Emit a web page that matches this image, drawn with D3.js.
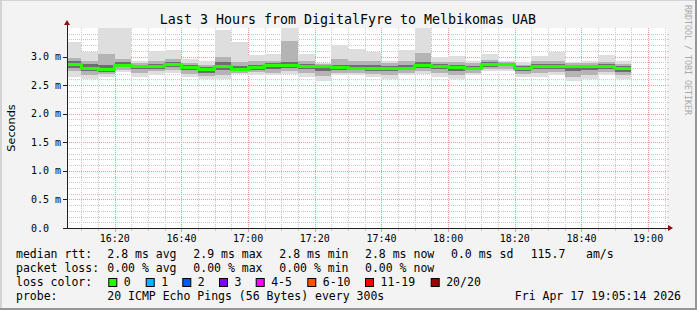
<!DOCTYPE html>
<html>
<head>
<meta charset="utf-8">
<script src="https://cdn.jsdelivr.net/npm/d3@7"></script>
<style>
html, body { margin:0; padding:0; background:#f3f3f3; }
svg { display:block; }
text { font-family:"DejaVu Sans Mono", monospace; fill:#000; }
</style>
</head>
<body>
<svg width="697" height="310"></svg>
<script>
// 5 minute probe slots (start of each step)
var slots = ["16:05","16:10","16:15","16:20","16:25","16:30","16:35","16:40","16:45","16:50",
	"16:55","17:00","17:05","17:10","17:15","17:20","17:25","17:30","17:35","17:40",
	"17:45","17:50","17:55","18:00","18:05","18:10","18:15","18:20","18:25","18:30",
	"18:35","18:40","18:45","18:50"];

// round trip times in ms, per slot
var rttMedian = [2.87,2.80,2.77,2.85,2.83,2.83,2.87,2.81,2.77,2.83,2.77,2.81,2.84,2.85,2.83,2.83,2.81,
	2.80,2.80,2.80,2.80,2.84,2.83,2.81,2.80,2.86,2.87,2.79,2.83,2.83,2.83,2.83,2.83,2.79];
var rttMax = [3.25,3.08,3.60,3.60,2.92,3.09,3.12,2.96,2.92,3.47,3.25,3.02,3.05,3.60,3.05,2.89,3.20,
	3.14,3.08,2.93,3.12,3.60,2.99,3.01,2.93,3.04,2.93,2.90,3.01,3.08,2.90,2.92,3.02,2.93];
var rttHi = [2.98,2.92,3.05,2.96,2.89,2.92,2.95,2.88,2.86,3.00,2.90,2.92,2.93,3.27,2.92,2.87,2.95,
	2.93,2.92,2.88,2.93,3.06,2.90,2.90,2.88,2.94,2.91,2.86,2.92,2.93,2.88,2.89,2.91,2.87];
var rttUpper = [2.92,2.87,2.86,2.90,2.86,2.87,2.90,2.85,2.81,2.90,2.83,2.86,2.88,2.90,2.87,2.85,2.86,
	2.85,2.86,2.84,2.85,2.90,2.87,2.85,2.84,2.90,2.89,2.83,2.87,2.87,2.85,2.86,2.87,2.83];
var rttLower = [2.80,2.74,2.73,2.81,2.78,2.79,2.82,2.76,2.72,2.77,2.75,2.77,2.78,2.80,2.78,2.75,2.77,
	2.76,2.75,2.75,2.76,2.80,2.78,2.75,2.76,2.82,2.83,2.74,2.78,2.79,2.74,2.76,2.79,2.73];
var rttLo = [2.74,2.68,2.69,2.77,2.72,2.74,2.77,2.70,2.66,2.68,2.72,2.73,2.72,2.75,2.71,2.66,2.72,
	2.72,2.70,2.68,2.72,2.75,2.71,2.67,2.71,2.78,2.79,2.69,2.71,2.73,2.65,2.68,2.73,2.67];
var rttMin = [2.65,2.61,2.64,2.73,2.65,2.68,2.71,2.64,2.60,2.61,2.70,2.68,2.67,2.70,2.65,2.58,2.67,
	2.68,2.64,2.61,2.68,2.70,2.65,2.60,2.67,2.74,2.74,2.64,2.65,2.68,2.58,2.61,2.68,2.61];

var yTicks = [0, 0.5, 1.0, 1.5, 2.0, 2.5, 3.0];
var yTickLabels = ["0.0", "0.5 m", "1.0 m", "1.5 m", "2.0 m", "2.5 m", "3.0 m"];

var lossLabels = ["0", "1", "2", "3", "4-5", "6-10", "11-19", "20/20"];
var lossColors = ["#26ff00", "#00b8ff", "#0059ff", "#7e00ff", "#ff00ff", "#ff5500", "#ff0000", "#a10000"];

var legendRtt = ["2.8 ms avg", "2.9 ms max", "2.8 ms min", "2.8 ms now", "0.0 ms sd", "115.7", "am/s"];
var legendLoss = ["0.00 % avg", "0.00 % max", "0.00 % min", "0.00 % now"];

var svg = d3.select("svg"),
	W = 697, H = 310,
	plot = {left:67, right:667, top:28, bottom:228},
	step = 5 * 60 * 1000;

function at(hm) {
	var p = hm.split(":");
	return new Date(2026, 3, 17, +p[0], +p[1], 0);
}

var x = d3.scaleTime()
	.domain([new Date(2026, 3, 17, 16, 5, 40), new Date(2026, 3, 17, 19, 5, 40)])
	.range([plot.left, plot.right]);
var y = d3.scaleLinear().domain([0, 3.5]).range([plot.bottom, plot.top]);

// background and frame shading
svg.append("rect").attr("width", W).attr("height", H).attr("fill", "#f3f3f3");
svg.append("rect").attr("x", 0).attr("y", 0).attr("width", W).attr("height", 1).attr("fill", "#d4d4d4");
svg.append("rect").attr("x", 0).attr("y", 0).attr("width", 2).attr("height", H).attr("fill", "#d4d4d4");
svg.append("rect").attr("x", W - 2).attr("y", 0).attr("width", 2).attr("height", H).attr("fill", "#969696");
svg.append("rect").attr("x", 0).attr("y", H - 2).attr("width", W).attr("height", 2).attr("fill", "#969696");

svg.append("rect")
	.attr("x", plot.left).attr("y", plot.top)
	.attr("width", plot.right - plot.left).attr("height", plot.bottom - plot.top)
	.attr("fill", "#ffffff");

svg.append("clipPath").attr("id", "clip")
	.append("rect")
	.attr("x", plot.left).attr("y", plot.top)
	.attr("width", plot.right - plot.left).attr("height", plot.bottom - plot.top);

// grid
var grid = svg.append("g").attr("shape-rendering", "crispEdges");
var minorY = d3.range(1, 35).map(function(d) { return d / 10; })
	.filter(function(d) { return Math.abs(d * 2 - Math.round(d * 2)) > 1e-6; });
grid.selectAll("line.hmin").data(minorY).enter().append("line")
	.attr("x1", plot.left).attr("x2", plot.right)
	.attr("y1", function(d) { return Math.round(y(d)) + 0.5; })
	.attr("y2", function(d) { return Math.round(y(d)) + 0.5; })
	.attr("stroke", "#c8c8c8").attr("stroke-dasharray", "1,1");

var xMinor = x.ticks(d3.timeMinute.every(5));
var xMajor = x.ticks(d3.timeMinute.every(20));
grid.selectAll("line.vmin").data(xMinor.filter(function(d) { return d.getMinutes() % 20 !== 0; }))
	.enter().append("line")
	.attr("x1", function(d) { return Math.round(x(d)) + 0.5; })
	.attr("x2", function(d) { return Math.round(x(d)) + 0.5; })
	.attr("y1", plot.top).attr("y2", plot.bottom)
	.attr("stroke", "#c8c8c8").attr("stroke-dasharray", "1,1");

grid.selectAll("line.hmaj").data(yTicks.slice(1)).enter().append("line")
	.attr("x1", plot.left).attr("x2", plot.right)
	.attr("y1", function(d) { return Math.round(y(d)) + 0.5; })
	.attr("y2", function(d) { return Math.round(y(d)) + 0.5; })
	.attr("stroke", "#f09a9a").attr("stroke-dasharray", "1,1");
grid.selectAll("line.vmaj").data(xMajor).enter().append("line")
	.attr("x1", function(d) { return Math.round(x(d)) + 0.5; })
	.attr("x2", function(d) { return Math.round(x(d)) + 0.5; })
	.attr("y1", plot.top).attr("y2", plot.bottom)
	.attr("stroke", "#f09a9a").attr("stroke-dasharray", "1,1");

// smoke: nested bands from outer (light) to inner (dark)
var smoke = svg.append("g").attr("clip-path", "url(#clip)").attr("shape-rendering", "crispEdges");
var bands = [
	{hi: rttMax, lo: rttMin, color: "#dedede"},
	{hi: rttHi, lo: rttLo, color: "#b4b4b4"},
	{hi: rttUpper, lo: rttLower, color: "#6e6e6e"}
];
bands.forEach(function(b) {
	smoke.selectAll(null).data(slots).enter().append("rect")
		.attr("x", function(d) { return x(at(d)); })
		.attr("width", function(d) { return x(new Date(+at(d) + step)) - x(at(d)); })
		.attr("y", function(d, i) { return y(b.hi[i]); })
		.attr("height", function(d, i) { return y(b.lo[i]) - y(b.hi[i]); })
		.attr("fill", b.color);
});

// median line, coloured by loss (all 0 here)
var pts = slots.map(function(d, i) { return [x(at(d)), y(rttMedian[i])]; });
pts.push([x(new Date(+at(slots[slots.length - 1]) + step)), y(rttMedian[rttMedian.length - 1])]);
var stepLine = d3.line().curve(d3.curveStepAfter);
smoke.append("path").attr("d", stepLine(pts))
	.attr("fill", "none").attr("stroke", "#202020").attr("stroke-width", 1);
smoke.append("path").attr("d", stepLine(pts))
	.attr("fill", "none").attr("stroke", lossColors[0]).attr("stroke-width", 3);

// axes
var axes = svg.append("g").attr("shape-rendering", "crispEdges");
axes.append("line").attr("x1", plot.left + 0.5).attr("x2", plot.left + 0.5)
	.attr("y1", plot.bottom + 1).attr("y2", 24).attr("stroke", "#202020");
axes.append("line").attr("x1", plot.left - 3).attr("x2", 669)
	.attr("y1", plot.bottom + 0.5).attr("y2", plot.bottom + 0.5).attr("stroke", "#202020");
svg.append("path").attr("d", "M64,25L70,25L67,20Z").attr("fill", "#8b1010");
svg.append("path").attr("d", "M668,225L668,231L673,228Z").attr("fill", "#8b1010");

axes.selectAll("line.ytick").data(yTicks).enter().append("line")
	.attr("x1", plot.left - 4).attr("x2", plot.left)
	.attr("y1", function(d) { return Math.round(y(d)) + 0.5; })
	.attr("y2", function(d) { return Math.round(y(d)) + 0.5; })
	.attr("stroke", "#202020");
axes.selectAll("line.ytickr").data(minorY.concat(yTicks.slice(1))).enter().append("line")
	.attr("x1", plot.right).attr("x2", plot.right + 2)
	.attr("y1", function(d) { return Math.round(y(d)) + 0.5; })
	.attr("y2", function(d) { return Math.round(y(d)) + 0.5; })
	.attr("stroke", "#c8c8c8");
axes.selectAll("line.xtick").data(xMinor).enter().append("line")
	.attr("x1", function(d) { return Math.round(x(d)) + 0.5; })
	.attr("x2", function(d) { return Math.round(x(d)) + 0.5; })
	.attr("y1", plot.bottom + 1)
	.attr("y2", function(d) { return d.getMinutes() % 20 === 0 ? plot.bottom + 4 : plot.bottom + 3; })
	.attr("stroke", function(d) { return d.getMinutes() % 20 === 0 ? "#f09a9a" : "#c8c8c8"; });

// tick labels
svg.selectAll("text.ylab").data(yTicks).enter().append("text")
	.attr("x", 31).attr("y", function(d) { return y(d) + 3.5; })
	.style("font-size", "10px")
	.text(function(d, i) { return yTickLabels[i]; });
svg.selectAll("text.xlab").data(xMajor).enter().append("text")
	.attr("x", function(d) { return x(d); }).attr("y", 241.5)
	.attr("text-anchor", "middle").style("font-size", "10px")
	.text(d3.timeFormat("%H:%M"));

// titles
svg.append("text").attr("x", 348).attr("y", 24).attr("text-anchor", "middle")
	.style("font-size", "13.3px")
	.text("Last 3 Hours from DigitalFyre to Melbikomas UAB");
svg.append("text").attr("transform", "translate(14.5,128) rotate(-90)")
	.attr("text-anchor", "middle")
	.style("font-family", "'DejaVu Sans', sans-serif").style("font-size", "11.3px")
	.text("Seconds");
svg.append("text").attr("transform", "translate(685,5) rotate(90)")
	.style("font-size", "8.3px").style("fill", "#a8a8a8")
	.text("RRDTOOL / TOBI OETIKER");

// legend
var legend = svg.append("g").style("font-size", "11.5px");
var colX = [107.3, 193.3, 279.3, 365, 451, 530.7, 586];
legend.append("text").attr("x", 16).attr("y", 258).text("median rtt:");
legend.selectAll(null).data(legendRtt).enter().append("text")
	.attr("x", function(d, i) { return colX[i]; }).attr("y", 258).text(function(d) { return d; });
legend.append("text").attr("x", 16).attr("y", 272).text("packet loss:");
legend.selectAll(null).data(legendLoss).enter().append("text")
	.attr("x", function(d, i) { return colX[i]; }).attr("y", 272).text(function(d) { return d; });

legend.append("text").attr("x", 16).attr("y", 286).text("loss color:");
var boxX = [108.3, 145.7, 182.3, 219, 255.7, 307.3, 365, 430.7];
var sw = legend.selectAll("g.sw").data(lossLabels).enter().append("g");
sw.append("rect")
	.attr("x", function(d, i) { return boxX[i] + 0.5; }).attr("y", 278.5)
	.attr("width", 8).attr("height", 8)
	.attr("fill", function(d, i) { return lossColors[i]; })
	.attr("stroke", "#000").attr("stroke-width", 1);
sw.append("text")
	.attr("x", function(d, i) { return boxX[i] + 15.5; }).attr("y", 286)
	.text(function(d) { return d; });

legend.append("text").attr("x", 16).attr("y", 300).text("probe:");
legend.append("text").attr("x", 107.3).attr("y", 300).text("20 ICMP Echo Pings (56 Bytes) every 300s");
legend.append("text").attr("x", 681).attr("y", 300).attr("text-anchor", "end")
	.text("Fri Apr 17 19:05:14 2026");
</script>
</body>
</html>
